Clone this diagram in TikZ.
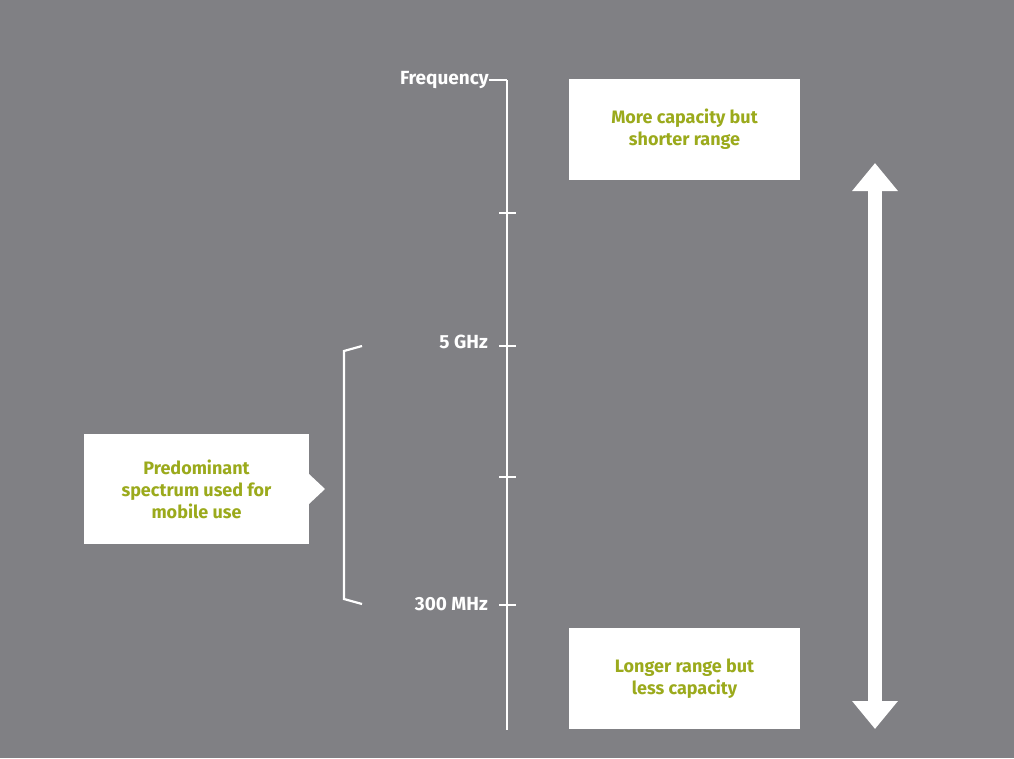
\documentclass[tikz,border=0pt]{standalone}
\usepackage{fontspec}
\setmainfont{Fira Sans}
\usetikzlibrary{arrows.meta}
\definecolor{bg}{HTML}{808084}
\definecolor{grn}{HTML}{9BAA1C}
\begin{document}
\begin{tikzpicture}[x=1pt,y=-1pt,
  lbl/.style={text=white,font=\fontsize{19}{23}\selectfont\bfseries,inner sep=0},
  box/.style={fill=white,text=grn,font=\fontsize{18}{27}\selectfont\bfseries,align=center,inner sep=0},
  ln/.style={white,line width=2.2pt}]
\useasboundingbox (0,0) rectangle (1014,758);
\fill[bg] (0,0) rectangle (1014,758);
\coordinate (top) at (507,80);
\coordinate (bot) at (507,730);
\draw[ln] (top) -- (bot);
\node[lbl,anchor=east] (freq) at (489,80) {Frequency};
\draw[ln] (freq.east) -- (top);
\foreach \y/\n in {213/t1,346/t2,477/t3,605/t4}{
  \coordinate (\n a) at (499,\y); \coordinate (\n b) at (516,\y);
  \draw[ln] (\n a) -- (\n b);}
\node[lbl,anchor=east] (g5) at (488,342) {5 GHz};
\node[lbl,anchor=east] (m300) at (488,604) {300 MHz};
\coordinate (b1) at (362,346); \coordinate (b2) at (344,351);
\coordinate (b3) at (344,599); \coordinate (b4) at (362,604);
\draw[ln] (b1) -- (b2) -- (b3) -- (b4);
\node[box,minimum width=231,minimum height=101] (hi) at (684.5,129.5) {More capacity but\\[-5pt]shorter range};
\node[box,minimum width=231,minimum height=101] (lo) at (684.5,678.5) {Longer range but\\[-5pt]less capacity};
\node[box,minimum width=225,minimum height=110] (pm) at (196.5,489) {Predominant\\[-5pt]spectrum used for\\[-5pt]mobile use};
\coordinate (tp1) at (309,474); \coordinate (tp2) at (325,489); \coordinate (tp3) at (309,504);
\fill[white] (tp1) -- (tp2) -- (tp3) -- cycle;
\coordinate (at) at (875,163); \coordinate (ab) at (875,729);
\draw[white,line width=14pt,{Triangle[length=28pt,width=44pt]}-{Triangle[length=28pt,width=44pt]}] (at) -- (ab);
\end{tikzpicture}
\end{document}
